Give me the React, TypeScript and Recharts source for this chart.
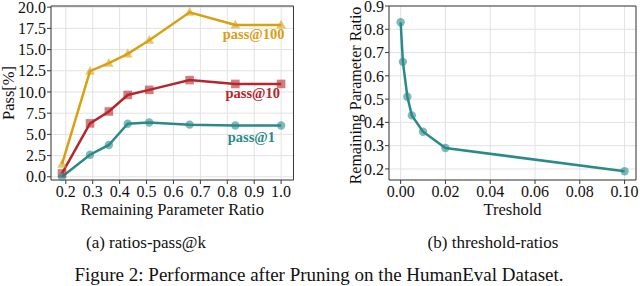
import React from 'react';
import { LineChart, Line, XAxis, YAxis, CartesianGrid, ReferenceArea, LabelList } from 'recharts';

const FONT = "'Liberation Serif', 'DejaVu Serif', serif";

// Left panel: remaining parameter ratio vs pass@k
const ratios = [0.186, 0.29, 0.36, 0.43, 0.51, 0.66, 0.83, 1.0];
const pass1 = [0.0, 2.6, 3.75, 6.25, 6.4, 6.15, 6.05, 6.05];
const pass10 = [0.4, 6.3, 7.7, 9.65, 10.25, 11.4, 10.95, 10.95];
const pass100 = [1.5, 12.45, 13.4, 14.5, 16.1, 19.4, 17.9, 17.9];
const leftXTicks = [0.2, 0.3, 0.4, 0.5, 0.6, 0.7, 0.8, 0.9, 1.0];
const leftYTicks = [0, 2.5, 5, 7.5, 10, 12.5, 15, 17.5, 20];

// Right panel: threshold vs remaining parameter ratio
const thresholds = [0, 0.001, 0.003, 0.005, 0.01, 0.02, 0.1];
const remaining = [0.83, 0.66, 0.51, 0.43, 0.36, 0.29, 0.19];
const rightXTicks = [0, 0.02, 0.04, 0.06, 0.08, 0.1];
const rightYTicks = [0.2, 0.3, 0.4, 0.5, 0.6, 0.7, 0.8, 0.9];

const GOLD = '#D9A012';
const RED = '#B5262B';
const TEAL = '#2A8A8A';
const GRID = '#e2e2e2';
const AXIS = '#3a3a3a';

const leftData = ratios.map((x, i) => ({ x, p1: pass1[i], p10: pass10[i], p100: pass100[i] }));
const rightData = thresholds.map((x, i) => ({ x, r: remaining[i] }));

const LX: [number, number] = [0.145, 1.046];
const LY: [number, number] = [-0.38, 20.14];
const RX: [number, number] = [-0.0052, 0.1051];
const RY: [number, number] = [0.1525, 0.9];

const tickStyle = { fontFamily: FONT, fontSize: 16, fill: '#111', style: { fontFamily: FONT } };

const circleDot = (color: string) => (p: any) => (
  <circle key={`c-${p.index}`} cx={p.cx} cy={p.cy} r={4.2} fill={color} fillOpacity={0.6} stroke="none" />
);
const squareDot = (color: string) => (p: any) => (
  <rect key={`s-${p.index}`} x={p.cx - 4.3} y={p.cy - 4.3} width={8.6} height={8.6} fill={color} fillOpacity={0.6} stroke="none" />
);
const triDot = (color: string) => (p: any) => (
  <polygon
    key={`t-${p.index}`}
    points={`${p.cx},${p.cy - 5.2} ${p.cx - 4.8},${p.cy + 3.6} ${p.cx + 4.8},${p.cy + 3.6}`}
    fill={color}
    fillOpacity={0.6}
    stroke="none"
  />
);

const endLabel = (text: string, color: string, dx: number, dy: number, last: number) => (p: any) => {
  if (p.index !== last) return <g key={`n-${p.index}`} />;
  return (
    <text
      key={`l-${text}`}
      x={p.x + dx}
      y={p.y + dy}
      textAnchor="end"
      dominantBaseline="central"
      style={{ fontFamily: FONT }}
      fontSize={14.5}
      fontWeight="bold"
      fill={color}
    >
      {text}
    </text>
  );
};

const xLabel = (text: string) => (p: any) => {
  const vb = p.viewBox;
  return (
    <text x={vb.x + vb.width / 2} y={215} textAnchor="middle" style={{ fontFamily: FONT }} fontSize={16.5} fill="#111">
      {text}
    </text>
  );
};

const yLabel = (text: string, cx: number, size: number, shift: number) => (p: any) => {
  const vb = p.viewBox;
  const cy = vb.y + vb.height / 2 + shift;
  return (
    <text
      x={cx}
      y={cy}
      dy="0.33em"
      transform={`rotate(-90, ${cx}, ${cy})`}
      textAnchor="middle"
      style={{ fontFamily: FONT }}
      fontSize={size}
      fill="#111"
    >
      {text}
    </text>
  );
};

export default function App() {
  return (
    <div style={{ position: 'absolute', left: 0, top: 0, width: 640, height: 286, background: '#fff', overflow: 'hidden', fontFamily: FONT }}>
      <div style={{ position: 'absolute', left: 0, top: 0 }}>
        <LineChart width={300} height={220} data={leftData} margin={{ top: 6, right: 6.5, bottom: 0, left: 0 }} style={{ fontFamily: FONT }}>
          <CartesianGrid stroke={GRID} strokeWidth={1} />
          <XAxis
            dataKey="x"
            type="number"
            domain={LX}
            ticks={leftXTicks}
            tickFormatter={(v: number) => v.toFixed(1)}
            height={40}
            axisLine={false}
            tickLine={{ stroke: AXIS }}
            tickSize={4}
            tickMargin={1.5}
            tick={tickStyle}
            interval={0}
            label={{ content: xLabel('Remaining Parameter Ratio') }}
          />
          <YAxis
            type="number"
            domain={LY}
            ticks={leftYTicks}
            tickFormatter={(v: number) => v.toFixed(1)}
            width={51}
            axisLine={false}
            tickLine={{ stroke: AXIS }}
            tickSize={4}
            tickMargin={1}
            tick={tickStyle}
            interval={0}
            label={{ content: yLabel('Pass[%]', 9, 16.5, 0) }}
          />
          <Line dataKey="p100" stroke={GOLD} strokeWidth={2.5} dot={triDot(GOLD)} activeDot={false} isAnimationActive={false}>
            <LabelList dataKey="p100" content={endLabel('pass@100', GOLD, 3.5, 8.7, ratios.length - 1)} />
          </Line>
          <Line dataKey="p10" stroke={RED} strokeWidth={2.5} dot={squareDot(RED)} activeDot={false} isAnimationActive={false}>
            <LabelList dataKey="p10" content={endLabel('pass@10', RED, -1, 8.8, ratios.length - 1)} />
          </Line>
          <Line dataKey="p1" stroke={TEAL} strokeWidth={2.5} dot={circleDot(TEAL)} activeDot={false} isAnimationActive={false}>
            <LabelList dataKey="p1" content={endLabel('pass@1', TEAL, -6, 11.7, ratios.length - 1)} />
          </Line>
          <ReferenceArea x1={LX[0]} x2={LX[1]} y1={LY[0]} y2={LY[1]} fill="none" stroke={AXIS} strokeWidth={1} ifOverflow="visible" />
        </LineChart>
      </div>
      <div style={{ position: 'absolute', left: 320, top: 0 }}>
        <LineChart width={320} height={220} data={rightData} margin={{ top: 6, right: 4, bottom: 0, left: 0 }} style={{ fontFamily: FONT }}>
          <CartesianGrid stroke={GRID} strokeWidth={1} />
          <XAxis
            dataKey="x"
            type="number"
            domain={RX}
            ticks={rightXTicks}
            tickFormatter={(v: number) => v.toFixed(2)}
            height={40}
            axisLine={false}
            tickLine={{ stroke: AXIS }}
            tickSize={4}
            tickMargin={1.5}
            tick={tickStyle}
            interval={0}
            label={{ content: xLabel('Treshold') }}
          />
          <YAxis
            type="number"
            domain={RY}
            ticks={rightYTicks}
            tickFormatter={(v: number) => v.toFixed(1)}
            width={69}
            axisLine={false}
            tickLine={{ stroke: AXIS }}
            tickSize={4}
            tickMargin={1}
            tick={tickStyle}
            interval={0}
            label={{ content: yLabel('Remaining Parameter Ratio', 36, 16, 2.5) }}
          />
          <Line dataKey="r" stroke={TEAL} strokeWidth={2.5} dot={circleDot(TEAL)} activeDot={false} isAnimationActive={false} />
          <ReferenceArea x1={RX[0]} x2={RX[1]} y1={RY[0]} y2={RY[1]} fill="none" stroke={AXIS} strokeWidth={1} ifOverflow="visible" />
        </LineChart>
      </div>
      <svg width={640} height={286} style={{ position: 'absolute', left: 0, top: 0, pointerEvents: 'none', fontFamily: FONT }}>
        <text x={146} y={248} textAnchor="middle" style={{ fontFamily: FONT }} fontSize={17} fill="#111">(a) ratios-pass@k</text>
        <text x={493} y={248} textAnchor="middle" style={{ fontFamily: FONT }} fontSize={17} fill="#111">(b) threshold-ratios</text>
        <text x={319} y={281} textAnchor="middle" style={{ fontFamily: FONT }} fontSize={19} fill="#111">Figure 2: Performance after Pruning on the HumanEval Dataset.</text>
      </svg>
    </div>
  );
}
